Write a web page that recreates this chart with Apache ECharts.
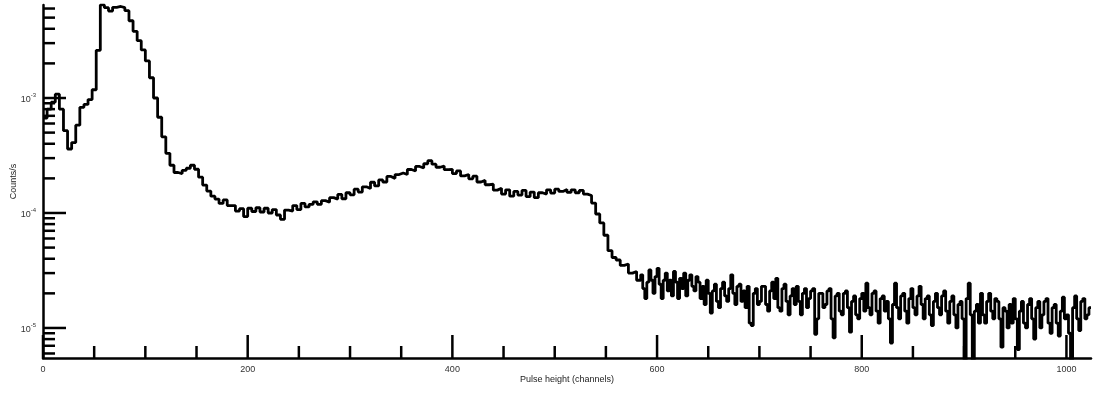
<!DOCTYPE html>
<html>
<head>
<meta charset="utf-8">
<script src="https://cdn.jsdelivr.net/npm/echarts@6/dist/echarts.min.js"></script>
<style>
  html, body { margin: 0; padding: 0; background: #fff; }
  #chart { width: 1094px; height: 394px; }
</style>
</head>
<body>
<div id="chart"></div>
<script>
// ---- data ----
// Values in units of 1e-5 counts/s.
const VALUE_UNIT = 1e-5;
// Low part of the spectrum: 4-channel bins starting at channel 0
const LOW_START = 0, LOW_BIN = 4;
const countsLowE5 = [
  67, 80, 92, 108, 80, 52, 36, 41, 58, 83,
  88, 97, 118, 260, 645, 610, 570, 615, 625, 610,
  575, 470, 380, 315, 262, 210, 150, 100, 68, 46,
  33, 26, 22.5, 22, 23.5, 24.5, 26, 24, 20.5, 17.5,
  15.5, 14, 13.2, 12.1, 13.0, 11.6, 11.6, 10.4, 10.9, 9.3,
  11.0, 10.3, 11.1, 10.2, 11.0, 10.0, 10.7, 9.6, 8.8, 10.6,
  10.4, 11.6, 10.7, 12.1, 11.3, 11.9, 12.5, 11.9, 12.8, 12.4,
  13.6, 13.2, 14.5, 13.3, 15.0, 14.4, 16.1, 15.2, 16.9, 16.3,
  18.5, 17.2, 19.4, 18.6, 20.8, 20.0, 21.6, 22.3, 21.6, 23.9,
  23.2, 25.4, 24.6, 26.8, 28.5, 26.6, 25.0, 25.6, 23.8, 24.0,
  22.0, 23.2, 21.0, 21.6, 19.8, 20.9, 18.6, 19.2, 17.6, 17.8,
  15.8, 16.4, 14.6, 15.9, 14.0, 15.4, 14.3, 15.7, 13.9, 15.2,
  13.6, 15.0, 14.6, 15.9, 14.9, 16.1, 15.4, 16.0, 15.1, 15.9,
  15.0, 15.7, 14.6, 14.2, 12.2, 9.8, 8.2, 6.4, 4.7, 4.1,
  3.9, 3.5, 3.6, 3.0, 3.1, 2.6
];
// Tail of the spectrum: 2-channel bins starting at channel 584
const TAIL_START = 584, TAIL_BIN = 2;
const countsTailE5 = [
  2.9, 2.2, 1.8, 2.5, 3.2, 2.6, 2.0, 2.8, 3.3, 2.4,
  1.8, 2.6, 3.0, 2.1, 2.6, 1.9, 3.1, 2.5, 1.8, 2.7,
  2.2, 3.0, 1.9, 2.6, 2.9, 2.3, 2.1, 2.8, 2.5, 1.8,
  2.3, 1.6, 2.6, 2.0, 1.35, 2.1, 2.4, 1.7, 1.5, 2.2,
  2.5, 1.9, 1.7, 2.2, 2.9, 2.0, 1.6, 2.3, 2.4, 1.7,
  2.1, 1.5, 2.3, 1.1, 1.05, 2.0, 2.2, 1.6, 1.7, 2.3,
  2.3, 1.6, 1.4, 2.1, 2.5, 1.8, 2.7, 1.5, 1.4, 2.2,
  2.4, 1.7, 1.3, 1.9, 2.2, 1.6, 2.3, 1.7, 1.3, 2.0,
  2.2, 1.5, 1.8, 2.1, 2.2, 0.88, 1.2, 2.0, 2.0, 1.5,
  1.6, 2.1, 2.2, 1.2, 0.82, 1.9, 2.0, 1.4, 1.3, 2.0,
  2.1, 1.5, 0.92, 1.7, 1.9, 1.3, 1.2, 1.8, 2.0, 1.4,
  2.45, 1.5, 1.3, 2.0, 2.1, 1.4, 1.1, 1.8, 1.9, 1.4,
  1.7, 1.2, 0.74, 1.6, 2.45, 1.5, 1.2, 1.9, 2.0, 1.4,
  1.1, 1.8, 2.2, 1.5, 1.3, 1.9, 2.3, 1.6, 1.2, 1.8,
  1.9, 1.3, 1.05, 1.7, 2.0, 1.5, 1.3, 1.9, 2.1, 1.4,
  1.1, 1.7, 1.9, 1.3, 1.0, 1.6, 1.7, 1.2, 0.5, 1.8,
  2.45, 1.3, 0.5, 1.4, 1.6, 1.1, 2.0, 1.3, 1.1, 1.7,
  2.0, 1.4, 1.2, 1.8, 1.7, 1.2, 0.68, 1.5, 1.4, 1.0,
  1.6, 1.1, 1.8, 1.2, 0.65, 1.4, 1.7, 1.1, 1.0, 1.6,
  1.8, 1.2, 0.8, 1.5, 1.7, 1.0, 1.3, 1.7, 1.8, 1.1,
  0.9, 1.5, 1.6, 1.1, 0.85, 1.4, 1.85, 1.2, 1.3, 0.9,
  0.5, 1.5, 1.9, 1.2, 0.95, 1.7, 1.8, 1.2, 1.3, 1.5
];

// axes
const X_MIN = 0, X_MAX = 1024;
const Y_MIN = 5.48e-6, Y_MAX = 6.44e-3;
const xLabelTicks = [0, 200, 400, 600, 800, 1000];
const xMinorTicks = [50, 100, 150, 250, 300, 350, 450, 500, 550, 650, 700, 750, 850, 900, 950];
const yMajorTicks = [1e-5, 1e-4, 1e-3];
const yMinorTicks = [
  6e-6, 7e-6, 8e-6, 9e-6,
  2e-5, 3e-5, 4e-5, 5e-5, 6e-5, 7e-5, 8e-5, 9e-5,
  2e-4, 3e-4, 4e-4, 5e-4, 6e-4, 7e-4, 8e-4, 9e-4,
  2e-3, 3e-3, 4e-3, 5e-3, 6e-3
];

// ---- build ----
const spectrum = countsLowE5.map((c, i) => [LOW_START + i * LOW_BIN, c * VALUE_UNIT])
  .concat(countsTailE5.map((c, i) => [TAIL_START + i * TAIL_BIN, c * VALUE_UNIT]));
spectrum.push([TAIL_START + countsTailE5.length * TAIL_BIN, countsTailE5[countsTailE5.length - 1] * VALUE_UNIT]);

const xTickData = xLabelTicks.map(v => [v, Y_MIN, 1]).concat(xMinorTicks.map(v => [v, Y_MIN, 0]));
const yTickData = yMajorTicks.map(v => [X_MIN, v, 1]).concat(yMinorTicks.map(v => [X_MIN, v, 0]));

const FONT = '"Liberation Sans", Arial, Helvetica, sans-serif';
const MAJOR_LEN = 23, MINOR_LEN = 12, TICK_W = 2.5;

function xTickRender(params, api) {
  const p = api.coord([api.value(0), api.value(1)]);
  const len = api.value(2) ? MAJOR_LEN : MINOR_LEN;
  return { type: 'line', shape: { x1: p[0], y1: p[1], x2: p[0], y2: p[1] - len },
           style: { stroke: '#000', lineWidth: TICK_W } };
}
function yTickRender(params, api) {
  const p = api.coord([api.value(0), api.value(1)]);
  const len = api.value(2) ? MAJOR_LEN : MINOR_LEN;
  return { type: 'line', shape: { x1: p[0], y1: p[1], x2: p[0] + len, y2: p[1] },
           style: { stroke: '#000', lineWidth: TICK_W } };
}

const chart = echarts.init(document.getElementById('chart'), null, { renderer: 'canvas' });
chart.setOption({
  animation: false,
  backgroundColor: '#fff',
  grid: { left: 43, right: 3, top: 5, bottom: 36, containLabel: false, outerBoundsMode: 'none' },
  xAxis: {
    type: 'value', min: X_MIN, max: X_MAX, interval: 200,
    name: 'Pulse height (channels)', nameLocation: 'middle', nameGap: 17, nameMoveOverlap: false,
    nameTextStyle: { fontFamily: FONT, fontSize: 9, color: '#222' },
    axisLine: { lineStyle: { color: '#000', width: 2.5 } },
    axisTick: { show: false },
    splitLine: { show: false },
    axisLabel: {
      margin: 7, fontFamily: FONT, fontSize: 9, color: '#333',
      formatter: v => (xLabelTicks.indexOf(v) >= 0 ? String(v) : '')
    }
  },
  yAxis: {
    type: 'log', logBase: 10, min: Y_MIN, max: Y_MAX,
    name: 'Counts/s', nameLocation: 'middle', nameGap: 25, nameMoveOverlap: false,
    nameTextStyle: { fontFamily: FONT, fontSize: 9, color: '#222' },
    axisLine: { lineStyle: { color: '#000', width: 2.5 } },
    axisTick: { show: false },
    splitLine: { show: false },
    axisLabel: {
      margin: 7, color: '#333',
      formatter: v => {
        const e = Math.round(Math.log10(v));
        if (Math.abs(Math.log10(v) - e) > 1e-6) return '';
        return '{b|10}{s|' + e + '}';
      },
      rich: {
        b: { fontFamily: FONT, fontSize: 9, color: '#333', lineHeight: 12, verticalAlign: 'bottom' },
        s: { fontFamily: FONT, fontSize: 6, color: '#333', lineHeight: 12, verticalAlign: 'top' }
      }
    }
  },
  series: [
    {
      type: 'line', data: spectrum, step: 'end', showSymbol: false, symbol: 'none',
      lineStyle: { color: '#000', width: 2.8 }, clip: true, silent: true
    },
    { type: 'custom', data: xTickData, renderItem: xTickRender, clip: false, silent: true, encode: { x: 0, y: 1 } },
    { type: 'custom', data: yTickData, renderItem: yTickRender, clip: false, silent: true, encode: { x: 0, y: 1 } }
  ]
});
</script>
</body>
</html>
